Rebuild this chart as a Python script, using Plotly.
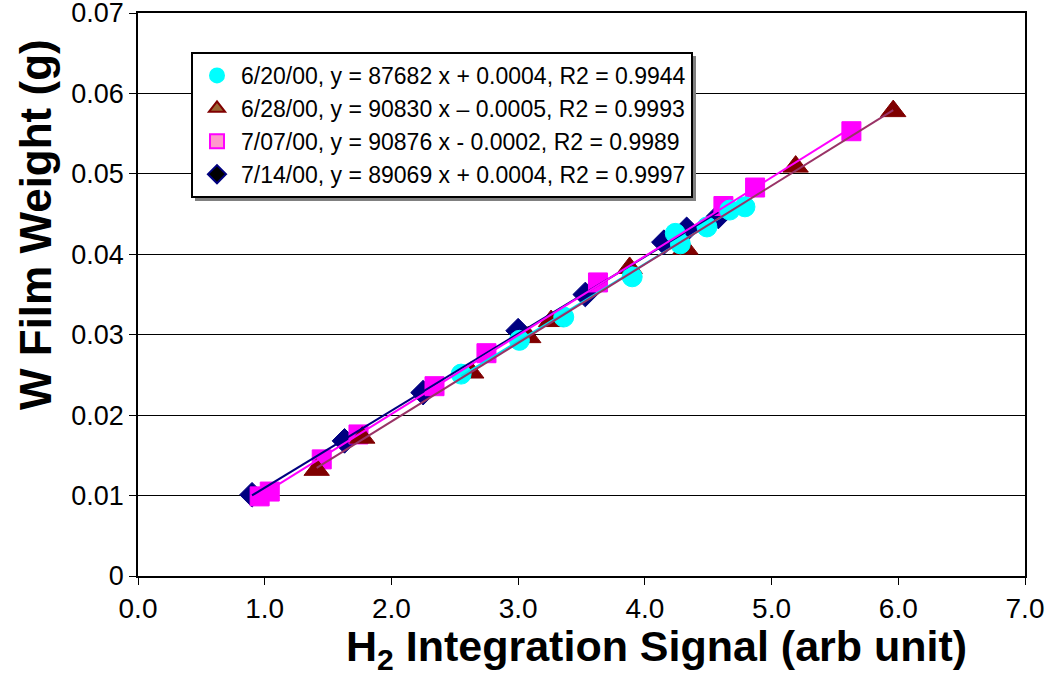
import numpy as np
import plotly.graph_objects as go

# Calibration runs: H2 integration signal vs. W film weight
x_0620 = [2.55, 3.01, 3.36, 3.90, 4.24, 4.28, 4.49, 4.67, 4.79]
y_0620 = [0.0251, 0.0293, 0.0322, 0.0372, 0.0426, 0.0413, 0.0434, 0.0455, 0.0459]

x_0628 = [1.41, 1.77, 2.63, 3.08, 3.26, 3.88, 4.32, 5.19, 5.96]
y_0628 = [0.0132, 0.0172, 0.0253, 0.0297, 0.0317, 0.0383, 0.0407, 0.0509, 0.0578]

x_0707 = [0.96, 1.04, 1.45, 1.74, 2.34, 2.75, 3.63, 4.62, 4.87, 5.63]
y_0707 = [0.0099, 0.0105, 0.0145, 0.0176, 0.0236, 0.0277, 0.0365, 0.0460, 0.0483, 0.0553]

x_0714 = [0.90, 1.63, 2.25, 3.00, 3.53, 4.15, 4.33, 4.58]
y_0714 = [0.0101, 0.0168, 0.0228, 0.0305, 0.0350, 0.0415, 0.0431, 0.0447]

labels = [
    "6/20/00, y = 87682 x + 0.0004, R2 = 0.9944",
    "6/28/00, y = 90830 x \u2013 0.0005, R2 = 0.9993",
    "7/07/00, y = 90876 x - 0.0002, R2 = 0.9989",
    "7/14/00, y = 89069 x + 0.0004, R2 = 0.9997",
]

x_ticks = [0, 1, 2, 3, 4, 5, 6, 7]
y_ticks = [0, 0.01, 0.02, 0.03, 0.04, 0.05, 0.06, 0.07]
y_ticktext = ["0", "0.01", "0.02", "0.03", "0.04", "0.05", "0.06", "0.07"]

series = {
    "0620": dict(x=x_0620, y=y_0620, label=labels[0], symbol="circle", size=20,
                 fill="#00FFFF", line="#00E5F0", rank=1,
                 key_fill="#00FFFF", key_edge="#00FFFF"),
    "0628": dict(x=x_0628, y=y_0628, label=labels[1], symbol="triangle-up", size=22,
                 fill="#800000", line="#993366", rank=2,
                 key_fill="#996633", key_edge="#800000"),
    "0707": dict(x=x_0707, y=y_0707, label=labels[2], symbol="square", size=19,
                 fill="#FF00FF", line="#FF00FF", rank=3,
                 key_fill="#FF99CC", key_edge="#FF00FF"),
    "0714": dict(x=x_0714, y=y_0714, label=labels[3], symbol="diamond", size=19,
                 fill="#000080", line="#000080", rank=4,
                 key_fill="#000000", key_edge="#000080"),
}

fig = go.Figure()

# data markers, bottom to top
for key in ["0714", "0707", "0628", "0620"]:
    s = series[key]
    fig.add_trace(go.Scatter(
        x=s["x"], y=s["y"], mode="markers", name=s["label"], showlegend=False,
        marker=dict(symbol=s["symbol"], size=s["size"], color=s["fill"],
                    line=dict(color=s["fill"], width=1)),
    ))

# linear trendlines over each run's signal range
for key in ["0620", "0714", "0628", "0707"]:
    s = series[key]
    slope, icept = np.polyfit(s["x"], s["y"], 1)
    xs = np.array([min(s["x"]), max(s["x"])])
    fig.add_trace(go.Scatter(
        x=xs, y=slope * xs + icept, mode="lines", showlegend=False,
        hoverinfo="skip", line=dict(color=s["line"], width=2),
    ))

# legend keys
for key in ["0620", "0628", "0707", "0714"]:
    s = series[key]
    fig.add_trace(go.Scatter(
        x=[None], y=[None], mode="markers", name=s["label"],
        legendrank=s["rank"],
        marker=dict(symbol=s["symbol"], size=14, color=s["key_fill"],
                    line=dict(color=s["key_edge"], width=2)),
    ))

PLOT_L, PLOT_T, PLOT_W, PLOT_H = 138, 13, 887, 563


def px_x(p):
    return (p - PLOT_L) / PLOT_W


def px_y(p):
    return (PLOT_T + PLOT_H - p) / PLOT_H


fig.update_layout(
    width=1056, height=673,
    margin=dict(l=PLOT_L, r=1056 - PLOT_L - PLOT_W, t=PLOT_T, b=673 - PLOT_T - PLOT_H,
                autoexpand=False),
    paper_bgcolor="white", plot_bgcolor="white",
    font=dict(family="Liberation Sans, Arial, sans-serif", color="black"),
    legend=dict(
        x=px_x(191), y=px_y(52), xanchor="left", yanchor="top",
        bgcolor="white", bordercolor="black", borderwidth=2,
        font=dict(size=23, family="Liberation Sans, Arial, sans-serif"),
        tracegroupgap=0, itemwidth=38,
    ),
    showlegend=True,
    shapes=[
        # drop shadow behind the legend box
        dict(type="rect", xref="paper", yref="paper",
             x0=px_x(195), x1=px_x(696), y0=px_y(201), y1=px_y(56),
             fillcolor="#808080", line=dict(width=0), layer="above"),
    ],
    annotations=[
        dict(text="<b>H<sub>2</sub> Integration Signal (arb unit)</b>",
             xref="paper", yref="paper", x=px_x(656), y=px_y(649),
             xanchor="center", yanchor="middle", showarrow=False,
             font=dict(size=43)),
        dict(text="<b>W Film Weight (g)</b>", textangle=-90,
             xref="paper", yref="paper", x=px_x(35), y=px_y(225),
             xanchor="center", yanchor="middle", showarrow=False,
             font=dict(size=44)),
    ],
)

fig.update_xaxes(
    range=[0, 7], tickvals=x_ticks, tickformat=".1f",
    ticks="outside", ticklen=7, tickcolor="black",
    showline=True, linecolor="black", linewidth=1.5, mirror=True,
    showgrid=False, zeroline=False, automargin=False,
    tickfont=dict(size=28),
)
fig.update_yaxes(
    range=[0, 0.07], tickvals=y_ticks, ticktext=y_ticktext,
    ticks="outside", ticklen=7, tickcolor="black",
    showline=True, linecolor="black", linewidth=1.5, mirror=True,
    showgrid=True, gridcolor="black", gridwidth=1, zeroline=False,
    automargin=False, tickfont=dict(size=27), ticklabeloverflow="allow",
)

fig.write_html("out.html")
